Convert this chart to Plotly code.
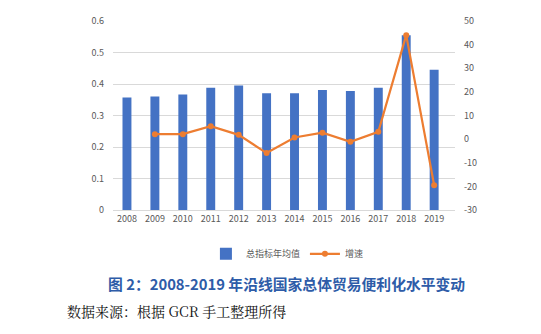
import plotly.graph_objects as go

years = ["2008", "2009", "2010", "2011", "2012", "2013", "2014", "2015", "2016", "2017", "2018", "2019"]
avg_index = [0.357, 0.360, 0.367, 0.388, 0.395, 0.371, 0.371, 0.381, 0.378, 0.388, 0.555, 0.445]
growth_years = ["2009", "2010", "2011", "2012", "2013", "2014", "2015", "2016", "2017", "2018", "2019"]
growth = [2.1, 2.1, 5.5, 1.8, -5.9, 0.7, 2.7, -1.1, 3.1, 44.0, -19.5]

left_ticks = [0, 0.1, 0.2, 0.3, 0.4, 0.5, 0.6]
left_labels = ["0", "0.1", "0.2", "0.3", "0.4", "0.5", "0.6"]
right_ticks = [-30, -20, -10, 0, 10, 20, 30, 40, 50]
right_labels = ["-30", "-20", "-10", "0", "10", "20", "30", "40", "50"]

font_cn = "Noto Sans CJK SC, Open Sans, sans-serif"
tick_col = "#595959"

fig = go.Figure()
fig.add_trace(go.Bar(x=years, y=avg_index, name="总指标年均值", marker_color="#4472C4",
                     marker_line_width=0, yaxis="y"))
fig.add_trace(go.Scatter(x=growth_years, y=growth, name="增速", mode="lines+markers",
                         line=dict(color="#ED7D31", width=2.2),
                         marker=dict(color="#ED7D31", size=6), yaxis="y2"))

fig.update_layout(
    width=541, height=334,
    margin=dict(l=113, r=86, t=21, b=124),
    paper_bgcolor="white", plot_bgcolor="white",
    bargap=0.68,
    font=dict(family=font_cn, size=9, color=tick_col),
    showlegend=True,
    legend=dict(orientation="h", x=0.51, xanchor="center", y=-0.155, yanchor="top",
                font=dict(size=9, color=tick_col), itemwidth=30),
    xaxis=dict(type="category", showgrid=False, showline=True, linecolor="#d9d9d9",
               ticks="", tickfont=dict(size=9, color=tick_col)),
    yaxis=dict(range=[0, 0.6], tickvals=left_ticks, ticktext=left_labels, showgrid=True,
               gridcolor="#d9d9d9", gridwidth=1, zeroline=False, ticks="",
               tickfont=dict(size=9, color=tick_col), ticklabelstandoff=8),
    yaxis2=dict(range=[-30, 50], tickvals=right_ticks, ticktext=right_labels,
                overlaying="y", side="right",
                showgrid=False, zeroline=False, ticks="",
                tickfont=dict(size=9, color=tick_col), ticklabelstandoff=8),
)

pw = 541 - 113 - 86
ph = 334 - 21 - 124
def px_x(px):
    return (px - 113) / pw
def px_y(py):
    return (334 - 124 - py) / ph

fig.add_annotation(text="<b>图 2：2008-2019 年沿线国家总体贸易便利化水平变动</b>",
                   xref="paper", yref="paper", x=px_x(106), y=px_y(283),
                   xanchor="left", yanchor="middle", showarrow=False,
                   font=dict(family=font_cn, size=14.8, color="#2E5CA8"))
fig.add_annotation(text="数据来源：根据 GCR 手工整理所得",
                   xref="paper", yref="paper", x=px_x(65), y=px_y(311),
                   xanchor="left", yanchor="middle", showarrow=False,
                   font=dict(family="Noto Serif CJK SC, Noto Sans CJK SC, serif", size=14, color="#111111"))

fig.write_html("out.html")
